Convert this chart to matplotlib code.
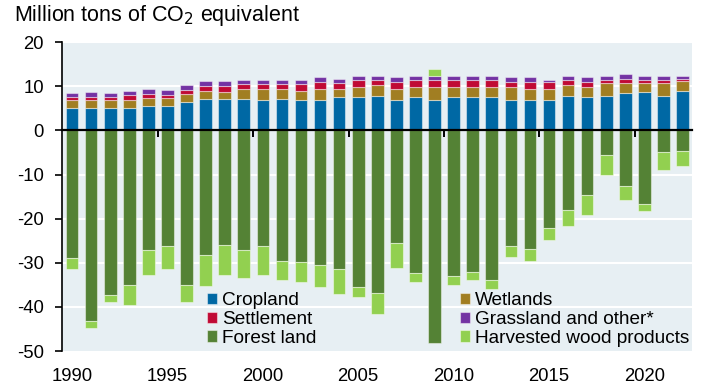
import numpy as np
import matplotlib.pyplot as plt

plt.rcParams['font.family'] = ['Liberation Sans', 'DejaVu Sans']
plt.rcParams['axes.unicode_minus'] = False

years = np.arange(1990, 2023)

# positive (sources)
cropland = [5.1, 5.1, 5.1, 5.1, 5.6, 5.6, 6.5, 7.2, 7.2, 7.2, 6.9, 7.2, 6.9, 6.9, 7.5, 7.5, 7.8,
            6.9, 7.5, 6.9, 7.5, 7.5, 7.5, 6.9, 6.9, 6.9, 7.8, 7.5, 7.8, 8.4, 8.7, 7.8, 8.9]
wetlands = [1.9, 1.9, 1.9, 1.9, 1.7, 1.7, 1.7, 1.7, 1.5, 2.3, 2.6, 2.3, 2.0, 2.6, 2.0, 2.3, 2.5,
            2.6, 2.3, 2.9, 2.3, 2.3, 2.3, 2.9, 2.6, 2.6, 2.5, 2.3, 2.9, 2.3, 2.0, 2.9, 2.3]
settlement = [0.5, 0.5, 0.5, 1.1, 1.0, 0.8, 1.0, 1.1, 1.3, 1.1, 1.1, 1.1, 1.7, 1.4, 1.3, 1.6, 1.1,
              1.4, 1.7, 1.7, 1.7, 1.7, 1.7, 1.1, 1.4, 1.4, 1.2, 1.1, 0.8, 1.0, 0.8, 0.8, 0.5]
grassland = [0.9, 1.2, 0.9, 0.9, 1.1, 1.1, 1.1, 1.2, 1.2, 0.9, 0.9, 0.9, 0.9, 1.1, 0.9, 0.9, 0.9,
             1.1, 0.8, 0.8, 0.8, 0.8, 0.8, 1.1, 1.1, 0.6, 0.8, 1.1, 0.8, 1.2, 0.8, 0.8, 0.6]
# negative (sinks)
forest = [-29.0, -43.2, -37.2, -35.1, -27.1, -26.3, -35.1, -28.3, -26.0, -27.1, -26.3, -29.6,
          -29.9, -30.5, -31.5, -35.4, -36.8, -25.5, -32.4, -48.1, -33.0, -32.1, -33.9, -26.3,
          -26.9, -22.2, -18.1, -14.7, -5.6, -12.5, -16.6, -5.0, -4.7]
hwp = [-2.5, -1.6, -1.6, -4.4, -5.6, -5.2, -3.9, -6.9, -6.7, -6.3, -6.4, -4.4, -4.4, -4.9,
       -5.6, -2.3, -4.7, -5.7, -1.9, 1.6, -2.1, -1.9, -2.1, -2.4, -2.7, -2.7, -3.6, -4.4,
       -4.4, -3.3, -1.6, -3.9, -3.4]

colors = {
    'Cropland': '#0068A4',
    'Settlement': '#C00A35',
    'Forest land': '#548235',
    'Wetlands': '#A17E22',
    'Grassland and other*': '#7333A3',
    'Harvested wood products': '#92D050',
}

fig = plt.figure(figsize=(7.12, 3.87), dpi=100)
ax = fig.add_axes([0.087, 0.093, 0.885, 0.798])
ax.set_facecolor('#E7EFF3')

w = 0.66
edge = dict(edgecolor=(1, 1, 1, 0.45), linewidth=0.8, zorder=3)
crop = np.array(cropland)
wet = np.array(wetlands)
sett = np.array(settlement)
grass = np.array(grassland)
fl = np.array(forest)
hw = np.array(hwp)

b_crop = ax.bar(years, crop, w, color=colors['Cropland'], **edge)
b_wet = ax.bar(years, wet, w, bottom=crop, color=colors['Wetlands'], **edge)
b_set = ax.bar(years, sett, w, bottom=crop + wet, color=colors['Settlement'], **edge)
b_gr = ax.bar(years, grass, w, bottom=crop + wet + sett, color=colors['Grassland and other*'], **edge)
b_fl = ax.bar(years, fl, w, color=colors['Forest land'], **edge)
top = crop + wet + sett + grass
# harvested wood products sits under forest land, except the one positive year
b_hw = ax.bar(years, hw, w, bottom=np.where(hw < 0, fl, top),
              color=colors['Harvested wood products'], **edge)

ax.set_ylim(-50, 20)
ax.set_xlim(1989.47, 2022.5)
ax.set_yticks(np.arange(-50, 21, 10))
for yv in np.arange(-40, 21, 10):
    if yv != 0:
        ax.axhline(yv, color='white', linewidth=1.5, zorder=1)

for s in ['top', 'right']:
    ax.spines[s].set_visible(False)
ax.spines['left'].set_linewidth(1.2)
ax.spines['bottom'].set_position(('data', 0))
ax.spines['bottom'].set_linewidth(1.6)
ax.spines['bottom'].set_zorder(5)
ax.set_xticks(np.arange(1994.5, 2022, 5))
ax.tick_params(axis='x', direction='out', length=5, width=1.4, labelbottom=False)
ax.tick_params(axis='y', direction='out', length=5, width=1.2, labelsize=13.3, pad=8)

sec = ax.secondary_xaxis('bottom')
sec.set_xticks(np.arange(1990, 2021, 5))
sec.tick_params(length=0, labelsize=13.3, pad=12)
sec.spines['bottom'].set_visible(False)

fig.text(0.019, 0.9465, 'Million tons of CO$_2$ equivalent', fontsize=15.5,
         ha='left', va='baseline')

handles = [b_crop, b_set, b_fl, b_wet, b_gr, b_hw]
labels = ['Cropland', 'Settlement', 'Forest land', 'Wetlands', 'Grassland and other*',
          'Harvested wood products']
ax.legend(handles, labels, ncol=2, loc='upper left', bbox_to_anchor=(0.230, 0.190),
          frameon=False, fontsize=13.7, handlelength=0.53, handleheight=0.53,
          handletextpad=0.26, labelspacing=0.09, columnspacing=7.54,
          borderaxespad=0, borderpad=0)

fig.savefig('out.png', dpi=100)
